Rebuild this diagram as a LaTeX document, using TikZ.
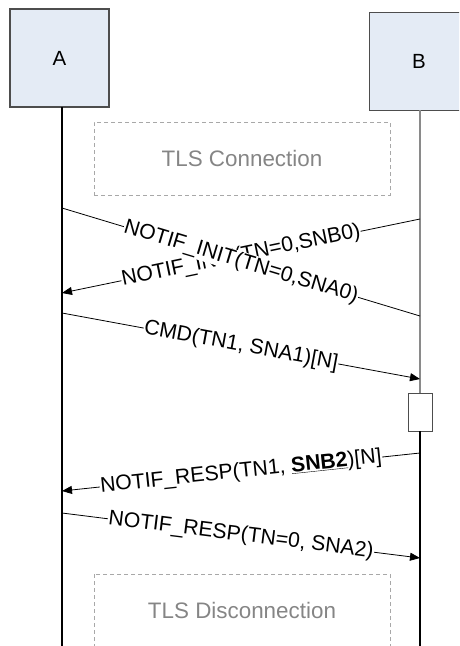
\documentclass[tikz,border=0pt]{standalone}
\usepackage{fontspec}
\setmainfont{Liberation Sans}
\usetikzlibrary{arrows.meta}
\definecolor{boxfill}{HTML}{E4EBF5}
\definecolor{boxline}{HTML}{4D4D4D}
\definecolor{tlsgray}{HTML}{858585}
\definecolor{dashgray}{HTML}{A8A8A8}
\definecolor{lifegray}{HTML}{8A8A8A}
\begin{document}
\begin{tikzpicture}[x=1pt,y=-1pt,
  actor/.style={draw=boxline, line width=1.2pt, fill=boxfill, font=\fontsize{20.5}{24}\selectfont, inner sep=0pt, minimum width=99pt, minimum height=98pt},
  lifeline/.style={line width=1.5pt},
  msg/.style={line width=0.8pt},
  arr/.style={-{Triangle[length=10pt,width=8pt]}},
  lbl/.style={fill=white, inner sep=0.5pt, font=\fontsize{21.2}{24}\selectfont, sloped, anchor=center},
  tlsbox/.style={draw=dashgray, dash pattern=on 4pt off 3pt, line width=0.8pt},
  tlstext/.style={text=tlsgray, font=\fontsize{22.4}{26}\selectfont, inner sep=0pt},
  act/.style={draw=boxline, fill=white, line width=0.8pt, minimum width=24pt, minimum height=38pt, inner sep=0pt}
]
\useasboundingbox (0,0) rectangle (459,646);
\clip (0,0) rectangle (459,646);

% actors
\node[actor] (A) at (59.5,58) {A};
\node[actor] (B) at (419,61.5) {B};

% lifeline coordinates
\coordinate (Atop) at (62,107);
\coordinate (Abot) at (62,650);
\coordinate (Btop) at (420,110);
\coordinate (Bbot) at (420,650);

% activation box
\node[act] (actB) at (420,412) {};

% lifelines
\draw[lifeline] (Atop) -- (Abot);
\draw[lifeline, lifegray] (Btop) -- (actB.north);
\draw[lifeline] (actB.south) -- (Bbot);

% TLS connection
\node[tlsbox, minimum width=296pt, minimum height=73pt] (conn) at (242,158.5) {};
\node[tlstext] (conntext) at (conn.center) {TLS Connection};

% TLS disconnection
\draw[tlsbox] (94,574) rectangle (390,680);
\node[tlstext] (disc) at (242,610) {TLS Disconnection};

% message points
\coordinate (b1) at (420,219);
\coordinate (a1) at (62,293);
\coordinate (a2) at (62,208);
\coordinate (b2) at (420,316);
\coordinate (a3) at (62,313);
\coordinate (b3) at (420,379);
\coordinate (b5) at (420,453);
\coordinate (a5) at (62,491);
\coordinate (a6) at (62,513);
\coordinate (b6) at (420,558);

% messages
\draw[msg, arr] (b1) -- node[lbl] (l1) {NOTIF\_INIT(TN=0,SNB0)} (a1);
\draw[msg] (a2) -- node[lbl] (l2) {NOTIF\_INIT(TN=0,SNA0)} (b2);
\draw[msg, arr] (a3) -- node[lbl] (l3) {CMD(TN1, SNA1)[N]} (b3);
\draw[msg, arr] (b5) -- node[lbl] (l5) {NOTIF\_RESP(TN1, \textbf{\underline{SNB2}})[N]} (a5);
\draw[msg, arr] (a6) -- node[lbl] (l6) {NOTIF\_RESP(TN=0, SNA2)} (b6);
\end{tikzpicture}
\end{document}
